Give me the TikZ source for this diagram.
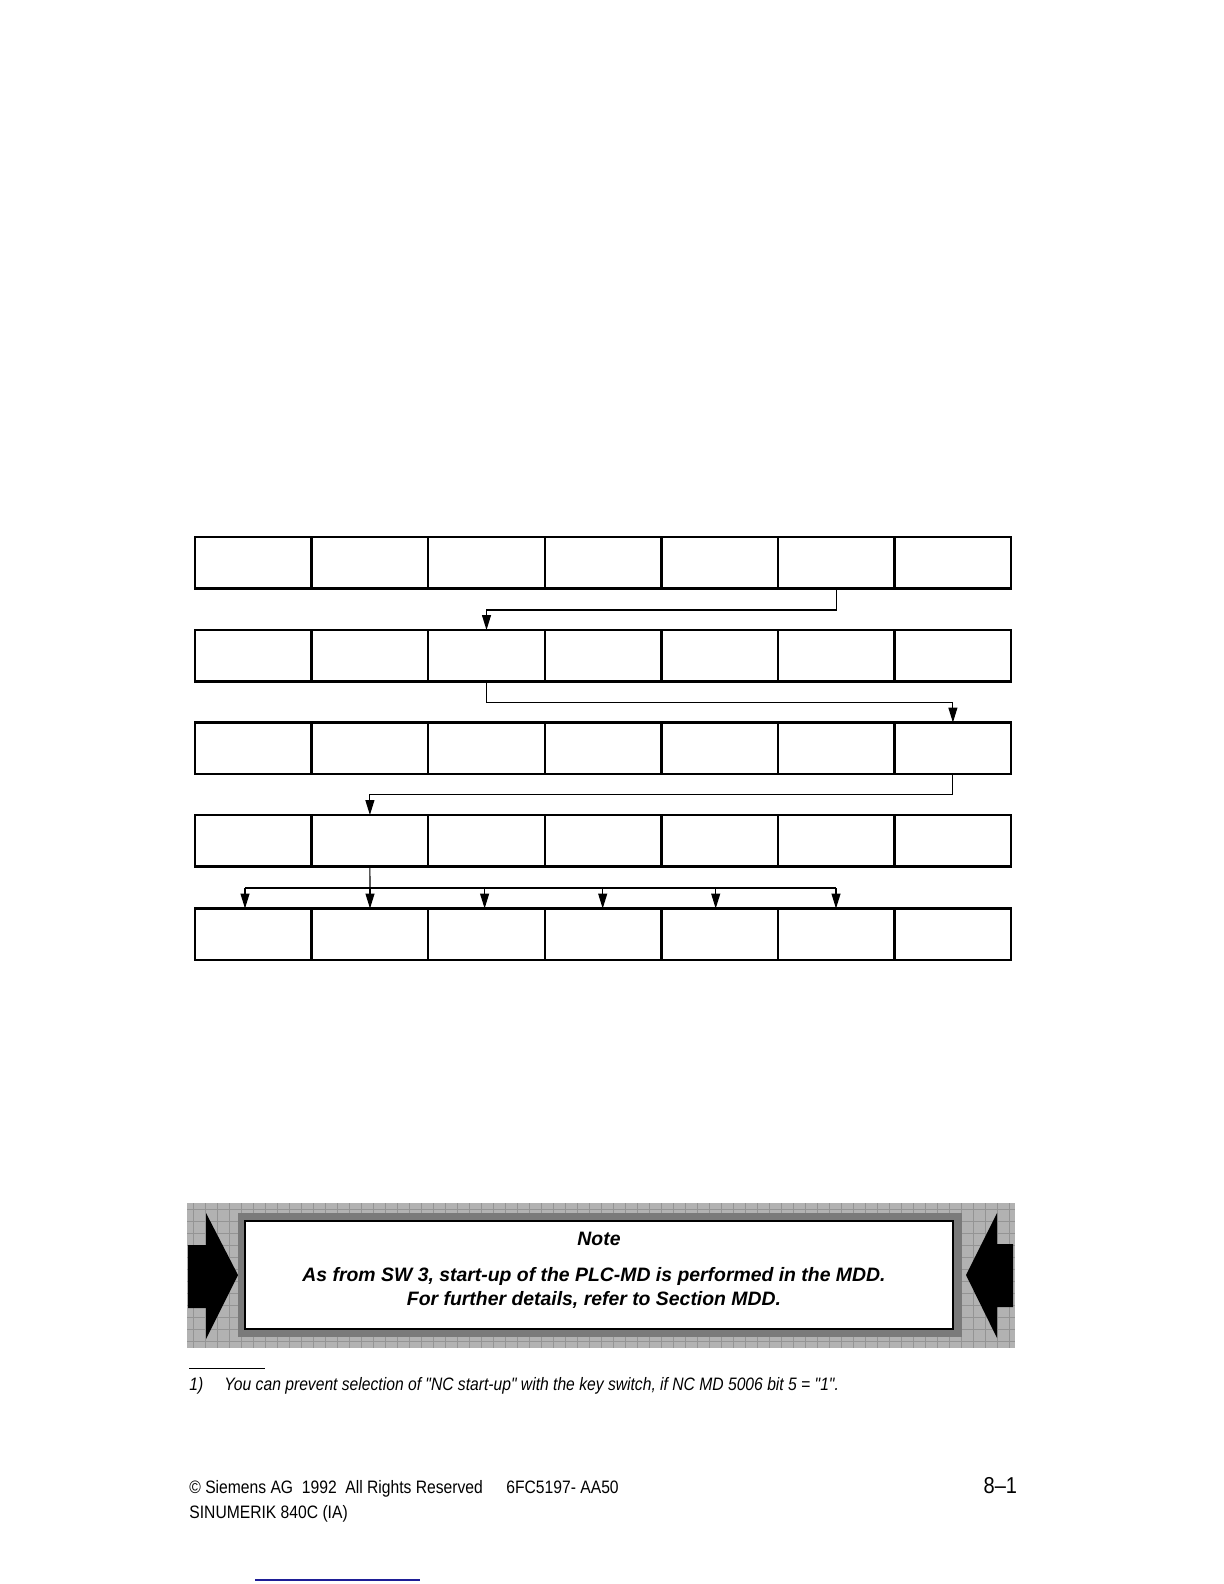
\documentclass[tikz,border=0pt]{standalone}
\usepackage{fontspec}
\setmainfont{Liberation Sans}
\newfontfamily\narrowfont[FakeStretch=0.87]{Liberation Sans}
\usetikzlibrary{arrows.meta}
\definecolor{linkblue}{RGB}{30,30,150}
\begin{document}
\begin{tikzpicture}[x=0.5pt,y=-0.5pt,
  cell/.style={draw, line width=1.25pt, minimum width=58.3pt, minimum height=25.75pt, inner sep=0pt, outer sep=0pt, fill=white},
  conn/.style={line width=0.55pt},
  arr/.style={conn, -{Triangle[width=4.5pt,length=7.5pt]}},
  gridline/.style={black!42, line width=0.25pt},
  notetxt/.style={inner sep=0pt, font=\fontsize{9.7pt}{11pt}\selectfont\bfseries\itshape},
  foot/.style={inner sep=0pt, anchor=west, font=\narrowfont\fontsize{9pt}{10pt}\selectfont\itshape},
  footer/.style={inner sep=0pt, anchor=base west, font=\narrowfont\fontsize{9pt}{10pt}\selectfont}]
\useasboundingbox (0,0) rectangle (1224,1584);
% grid of boxes
\foreach \r/\yt in {1/537,2/630,3/722.5,4/815,5/908.5}
  \foreach \c in {1,...,7}
    \node[cell] (r\r-\c) at ({195+(\c-0.5)*116.6},{\yt+25.75}) {};
% connectors
\draw[arr] (r1-6.south) -- ++(0,21.5) -| (r2-3.north);
\draw[arr] (r2-3.south) -- ++(0,21.1) -| (r3-7.north);
\draw[arr] (r3-7.south) -- ++(0,20.5) -| (r4-2.north);
\coordinate (b) at (370,888);
\draw[conn] (r4-2.south) -- (b);
\foreach \x/\c in {245/1,370/2,484.6/3,602.7/4,715.7/5,836/6}
  \coordinate (d\c) at (\x,888);
\draw[line width=1pt] (d1) -- (d6);
\foreach \c in {1,...,6}
  \draw[arr] (d\c) -- (d\c |- r5-\c.north);
% note box
\fill[black!30] (187,1203) rectangle (1015,1348);
\foreach \gx in {193,205,...,1012} \draw[gridline] (\gx,1203) -- (\gx,1348);
\foreach \gy in {1209,1221,...,1346} \draw[gridline] (187,\gy) -- (1015,\gy);
\fill[black!52] (238,1213) rectangle (962,1337);
\node[draw, line width=1pt, fill=white, minimum width=354pt, minimum height=54pt, inner sep=0pt] (note) at (599,1275) {};
\fill (188,1245) -- (206,1245) -- (206,1213) -- (238,1275) -- (206,1339) -- (206,1308) -- (188,1308) -- cycle;
\fill (1013,1244) -- (997,1244) -- (997,1213) -- (966,1275) -- (997,1338) -- (997,1307) -- (1013,1307) -- cycle;
\node[notetxt] (nt) at (599,1238.5) {Note};
\node[notetxt] (n1) at (594,1276) {As from SW 3, start-up of the PLC-MD is performed in the MDD.};
\node[notetxt] (n2) at (594,1300) {For further details, refer to Section MDD.};
% footnote
\draw[line width=0.4pt] (189,1368) -- (264.5,1368);
\node[foot] (fa) at (189,1386) {1)};
\node[foot] (fb) at (224,1386) {You can prevent selection of "NC start-up" with the key switch, if NC MD 5006 bit 5 = "1".};
% footer
\node[footer] (f1) at (189,1493) {\textcopyright{} Siemens AG\ \ 1992\ \ All Rights Reserved};
\node[footer] (f2) at (506,1493) {6FC5197- AA50};
\node[inner sep=0pt, anchor=base east, font=\narrowfont\fontsize{11.5pt}{12pt}\selectfont] (pg) at (1017.5,1493) {8–1};
\node[footer] (f3) at (189,1518) {SINUMERIK 840C (IA)};
\draw[linkblue, line width=0.6pt] (255,1580) -- (420,1580);
\end{tikzpicture}
\end{document}
